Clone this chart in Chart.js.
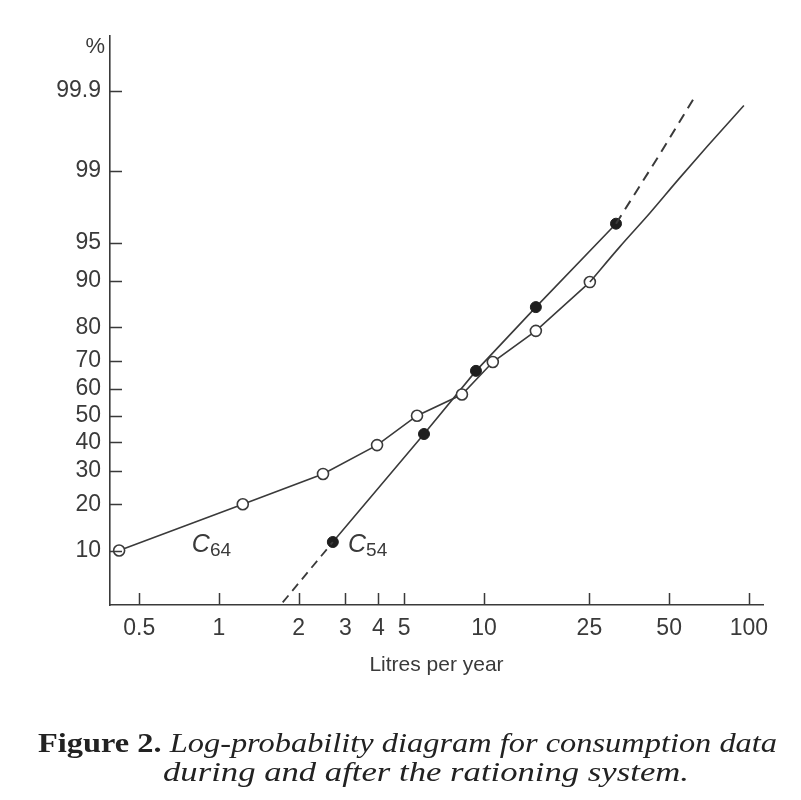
<!DOCTYPE html>
<html>
<head>
<meta charset="utf-8">
<script src="https://cdn.jsdelivr.net/npm/chart.js@4.4.1/dist/chart.umd.min.js"></script>
<style>
  html, body { margin: 0; padding: 0; background: #fff; }
  #wrap { width: 801px; height: 800px; }
</style>
</head>
<body>
<div id="wrap"><canvas id="chart" width="801" height="800"></canvas></div>
<script>
// x: litres per year, y: cumulative percent
const c64X = [0.42, 1.23, 2.47, 3.95, 5.59, 8.26, 10.8, 15.7, 25.1];
const c64Pct = [10, 20, 29, 39, 50, 58, 69.5, 79, 89.8];
const c64TailX = [15.7, 25.1, 32.6, 42.3, 54.0, 69.4, 95.7];
const c64TailPct = [79, 89.8, 94.6, 97.3, 98.75, 99.47, 99.84];

const c54X = [2.69, 5.94, 9.33, 15.7, 31.5];
const c54Pct = [11.5, 43.1, 66.5, 84.9, 96.6];
const c54LowX = [1.74, 2.69];
const c54LowPct = [3.8, 11.5];
const c54HighX = [31.5, 46.2, 62.6];
const c54HighPct = [96.6, 99.36, 99.88];

const xTickValues = [0.5, 1, 2, 3, 4, 5, 10, 25, 50, 100];
const xTickLabels = ['0.5', '1', '2', '3', '4', '5', '10', '25', '50', '100'];
const yTickPct = [10, 20, 30, 40, 50, 60, 70, 80, 90, 95, 99, 99.9];
const yTickLabels = ['10', '20', '30', '40', '50', '60', '70', '80', '90', '95', '99', '99.9'];

const seriesNames = ['C', 'C'];
const seriesSubs = ['64', '54'];
const seriesLabelX = [0.79, 3.07];
const seriesLabelPct = [9.75, 9.75];

// inverse normal cdf (Acklam), percent -> z
function probit(pct) {
  const p = pct / 100;
  const a = [-3.969683028665376e+01, 2.209460984245205e+02, -2.759285104469687e+02, 1.383577518672690e+02, -3.066479806614716e+01, 2.506628277459239e+00];
  const b = [-5.447609879822406e+01, 1.615858368580409e+02, -1.556989798598866e+02, 6.680131188771972e+01, -1.328068155288572e+01];
  const c = [-7.784894002430293e-03, -3.223964580411365e-01, -2.400758277161838e+00, -2.549732539343734e+00, 4.374664141464968e+00, 2.938163982698783e+00];
  const d = [7.784695709041462e-03, 3.224671290700398e-01, 2.445134137142996e+00, 3.754408661907416e+00];
  const pl = 0.02425;
  let q, r;
  if (p < pl) {
    q = Math.sqrt(-2 * Math.log(p));
    return (((((c[0]*q+c[1])*q+c[2])*q+c[3])*q+c[4])*q+c[5]) / ((((d[0]*q+d[1])*q+d[2])*q+d[3])*q+1);
  }
  if (p > 1 - pl) {
    q = Math.sqrt(-2 * Math.log(1 - p));
    return -(((((c[0]*q+c[1])*q+c[2])*q+c[3])*q+c[4])*q+c[5]) / ((((d[0]*q+d[1])*q+d[2])*q+d[3])*q+1);
  }
  q = p - 0.5;
  r = q * q;
  return (((((a[0]*r+a[1])*r+a[2])*r+a[3])*r+a[4])*r+a[5])*q / (((((b[0]*r+b[1])*r+b[2])*r+b[3])*r+b[4])*r+1);
}

const pts = (xs, ps) => xs.map((x, i) => ({ x: x, y: probit(ps[i]) }));

const ink = '#3a3a3a';
const sans = '"Liberation Sans", Arial, sans-serif';
const serif = '"Liberation Serif", "Times New Roman", serif';

const extras = {
  id: 'extras',
  afterDraw(chart) {
    const ctx = chart.ctx;
    const xs = chart.scales.x, ys = chart.scales.y;
    const area = chart.chartArea;
    ctx.save();
    // inward tick marks
    ctx.strokeStyle = ink;
    ctx.lineWidth = 1.5;
    ctx.beginPath();
    yTickPct.forEach(p => {
      const py = Math.round(ys.getPixelForValue(probit(p))) + 0.5;
      ctx.moveTo(area.left, py);
      ctx.lineTo(area.left + 12, py);
    });
    xTickValues.forEach(v => {
      const px = Math.round(xs.getPixelForValue(v)) + 0.5;
      ctx.moveTo(px, area.bottom);
      ctx.lineTo(px, area.bottom - 12);
    });
    ctx.stroke();

    // % unit
    ctx.fillStyle = ink;
    ctx.font = '22px ' + sans;
    ctx.textAlign = 'right';
    ctx.textBaseline = 'alphabetic';
    ctx.fillText('%', area.left - 5, area.top + 17);

    // curve names
    ctx.textAlign = 'left';
    seriesNames.forEach((n, i) => {
      const px = xs.getPixelForValue(seriesLabelX[i]);
      const py = ys.getPixelForValue(probit(seriesLabelPct[i]));
      ctx.font = 'italic 25px ' + sans;
      ctx.fillText(n, px, py);
      const w = ctx.measureText(n).width;
      ctx.font = '19px ' + sans;
      ctx.fillText(seriesSubs[i], px + w, py + 4);
    });

    // caption
    const lead = 'Figure 2. ';
    const rest1 = 'Log-probability diagram for consumption data';
    const line2 = 'during and after the rationing system.';
    const fb = 'bold 28px ' + serif;
    const fi = 'italic 28px ' + serif;
    ctx.font = fb; const wl = ctx.measureText(lead).width;
    ctx.font = fi; const wr = ctx.measureText(rest1).width;
    const w2 = ctx.measureText(line2).width;
    const sx1 = 739 / (wl + wr);
    const sx2 = 526 / w2;
    ctx.fillStyle = '#222';
    ctx.save();
    ctx.translate(38, 752);
    ctx.scale(sx1, 1);
    ctx.font = fb; ctx.fillText(lead, 0, 0);
    ctx.font = fi; ctx.fillText(rest1, wl, 0);
    ctx.restore();
    ctx.save();
    ctx.translate(163, 781);
    ctx.scale(sx2, 1);
    ctx.font = fi; ctx.fillText(line2, 0, 0);
    ctx.restore();
    ctx.restore();
  }
};

const lineBase = { borderColor: ink, borderWidth: 1.6, tension: 0, fill: false };

new Chart(document.getElementById('chart'), {
  type: 'scatter',
  data: {
    datasets: [
      Object.assign({}, lineBase, { data: pts(c54LowX, c54LowPct), showLine: true, pointRadius: 0, borderWidth: 1.8, borderDash: [9, 6] }),
      Object.assign({}, lineBase, { data: pts(c54HighX, c54HighPct), showLine: true, pointRadius: 0, borderWidth: 2, borderDash: [10, 7] }),
      Object.assign({}, lineBase, { data: pts(c64TailX.slice(1), c64TailPct.slice(1)), showLine: true, pointRadius: 0, cubicInterpolationMode: 'monotone' }),
      Object.assign({}, lineBase, { data: pts(c64X, c64Pct), showLine: true, pointRadius: 5.5, pointBackgroundColor: '#fff', pointBorderColor: ink, pointBorderWidth: 1.6 }),
      Object.assign({}, lineBase, { data: pts(c54X, c54Pct), showLine: true, pointRadius: 5.5, pointBackgroundColor: '#1e1e1e', pointBorderColor: '#1e1e1e', pointBorderWidth: 1 })
    ]
  },
  options: {
    responsive: false,
    animation: false,
    layout: { padding: { left: 0, top: 36, right: 38, bottom: 115 } },
    plugins: { legend: { display: false }, tooltip: { enabled: false } },
    scales: {
      x: {
        type: 'logarithmic',
        min: 0.388,
        max: 113,
        grid: { display: true, drawOnChartArea: false, drawTicks: false },
        border: { display: true, color: ink, width: 1.6 },
        afterBuildTicks: s => { s.ticks = xTickValues.map(v => ({ value: v })); },
        afterFit: s => { s.height = 80; },
        ticks: {
          autoSkip: false, maxRotation: 0, padding: 10, color: ink,
          font: { family: sans, size: 23 },
          callback: (v, i) => xTickLabels[i]
        },
        title: {
          display: true, text: 'Litres per year', color: ink,
          font: { family: sans, size: 21 },
          padding: { top: 0, bottom: 7 }
        }
      },
      y: {
        type: 'linear',
        min: probit(3.6),
        max: 3.609,
        grid: { display: true, drawOnChartArea: false, drawTicks: false },
        border: { display: true, color: ink, width: 1.6 },
        afterBuildTicks: s => { s.ticks = yTickPct.map(p => ({ value: probit(p) })); },
        afterFit: s => { s.width = 110; },
        ticks: {
          autoSkip: false, padding: 9, color: ink,
          font: { family: sans, size: 23 },
          callback: (v, i) => yTickLabels[i]
        }
      }
    }
  },
  plugins: [extras]
});
</script>
</body>
</html>
